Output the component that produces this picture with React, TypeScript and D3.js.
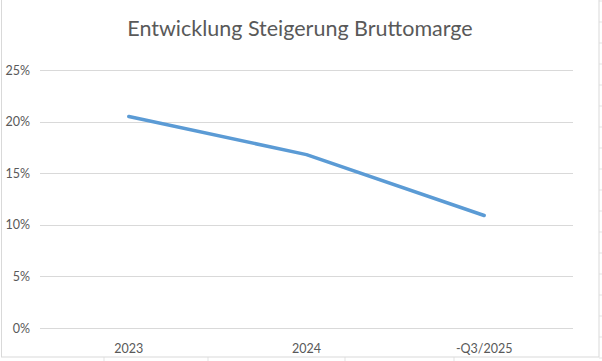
import * as d3 from "d3";

const categories = ["2023", "2024", "-Q3/2025"];
const marginValues = [0.205, 0.168, 0.109];
const yTicks = [0, 0.05, 0.1, 0.15, 0.2, 0.25];

const W = 602;
const H = 361;
const plot = {left: 40, right: 573, top: 70, bottom: 328};

export default function App() {
  const x = d3
    .scalePoint<string>()
    .domain(categories)
    .range([plot.left, plot.right])
    .padding(0.5);
  const y = d3.scaleLinear().domain([0, 0.25]).range([plot.bottom, plot.top]);
  const fmt = d3.format(".0%");

  const line = d3
    .line<number>()
    .x((_, i) => x(categories[i]) as number)
    .y((d) => y(d));

  // Excel-Zellraster rechts/unten ausserhalb des Diagramms
  const cellRows = d3.range(1, H, 21);
  const cellCols = [104, 208, 345, 454];

  return (
    <svg
      width={W}
      height={H}
      style={{position: "absolute", left: 0, top: 0, background: "#fff"}}
      fontFamily="Lato, 'Open Sans', sans-serif"
    >
      {cellRows.map((r) => (
        <line key={"r" + r} x1={599} x2={W} y1={r} y2={r} stroke="#e3e3e3" />
      ))}
      {cellCols.map((c) => (
        <line key={"c" + c} x1={c} x2={c} y1={357} y2={H} stroke="#e3e3e3" />
      ))}
      <rect x={1.5} y={-1} width={597.5} height={358} fill="#fff" stroke="#d9d9d9" />

      <text x={300} y={35.5} textAnchor="middle" fontSize={21.5} fill="#595959">
        Entwicklung Steigerung Bruttomarge
      </text>

      {yTicks.map((t) => (
        <g key={t}>
          <line
            x1={plot.left}
            x2={plot.right}
            y1={Math.round(y(t)) + 0.5}
            y2={Math.round(y(t)) + 0.5}
            stroke="#d9d9d9"
          />
          <text x={30} y={y(t) + 4.5} textAnchor="end" fontSize={12.5} fill="#595959">
            {fmt(t)}
          </text>
        </g>
      ))}

      {categories.map((c) => (
        <text key={c} x={x(c)} y={353} textAnchor="middle" fontSize={12.5} fill="#595959">
          {c}
        </text>
      ))}

      <path
        d={line(marginValues) ?? ""}
        fill="none"
        stroke="#5b9bd5"
        strokeWidth={3.5}
        strokeLinecap="round"
        strokeLinejoin="round"
      />
    </svg>
  );
}
